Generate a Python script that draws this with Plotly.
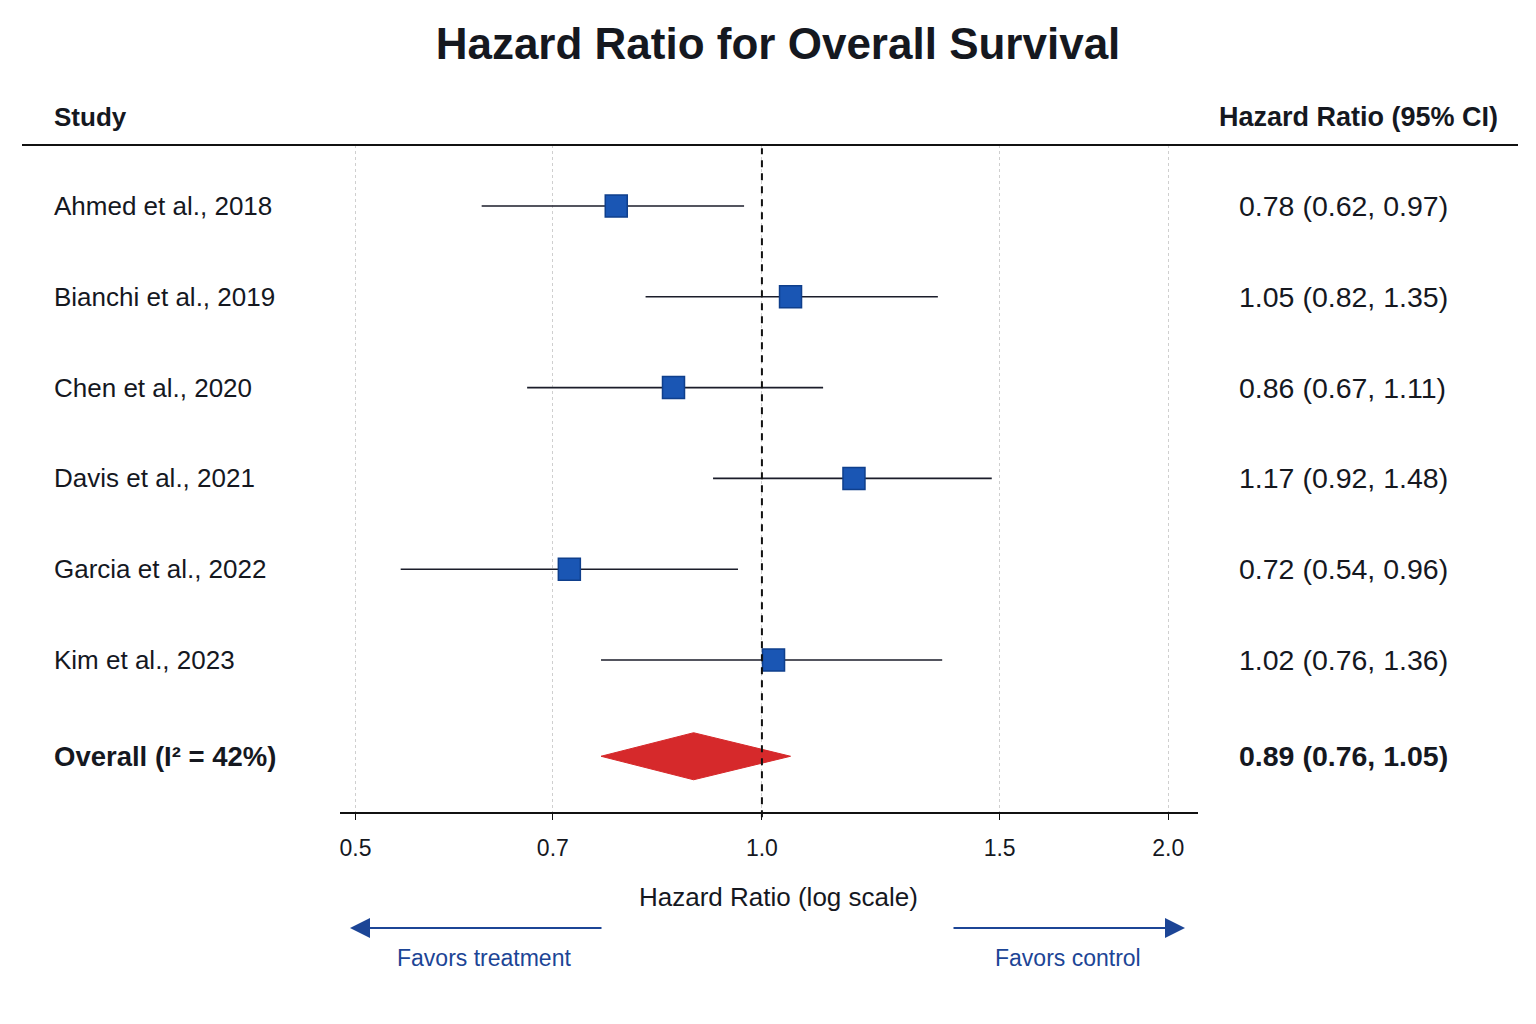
import math
import plotly.graph_objects as go

# ---------------- data ----------------
studies = ["Ahmed et al., 2018", "Bianchi et al., 2019", "Chen et al., 2020",
           "Davis et al., 2021", "Garcia et al., 2022", "Kim et al., 2023"]
hr = [0.78, 1.05, 0.86, 1.17, 0.72, 1.02]
ci_low = [0.62, 0.82, 0.67, 0.92, 0.54, 0.76]
ci_high = [0.97, 1.35, 1.11, 1.48, 0.96, 1.36]

overall_label = "Overall (I\u00b2 = 42%)"
overall_hr = 0.89
overall_low = 0.76
overall_high = 1.05

tick_vals = [0.5, 0.7, 1.0, 1.5, 2.0]
tick_text = ["0.5", "0.7", "1.0", "1.5", "2.0"]

# ---------------- layout constants ----------------
W, H = 1536, 1024
L, R, T, B = 340, 338, 145, 212
PW = W - L - R
PH = H - T - B
FONT = "Liberation Sans, Arial, Helvetica, sans-serif"
DARK = "#15181f"
BLUE_TXT = "#1c4596"
SQ_FILL = "#1a56b4"
SQ_LINE = "#0f3f8c"
RED = "#d6292b"

n = len(studies)
ys = [n + 1 - i for i in range(n)]          # 7 .. 2
y_overall = 0.94
x_range = [math.log10(0.4869), math.log10(2.104)]
y_range = [0.326, 7.672]


def px_x(p):
    return (p - L) / PW


def px_y(p):
    return (H - B - p) / PH


fig = go.Figure()

# CI lines
lx, ly = [], []
for lo, hi, y in zip(ci_low, ci_high, ys):
    lx += [lo, hi, None]
    ly += [y, y, None]
fig.add_trace(go.Scatter(x=lx, y=ly, mode="lines",
                         line=dict(color="#1b1d2a", width=1.6),
                         hoverinfo="skip", showlegend=False))

# point estimates
fig.add_trace(go.Scatter(x=hr, y=ys, mode="markers",
                         marker=dict(symbol="square", size=22, color=SQ_FILL,
                                     line=dict(color=SQ_LINE, width=1.5)),
                         showlegend=False))

# overall diamond
dh = 0.259
fig.add_trace(go.Scatter(
    x=[overall_low, overall_hr, overall_high, overall_hr, overall_low],
    y=[y_overall, y_overall + dh, y_overall, y_overall - dh, y_overall],
    mode="lines", fill="toself", fillcolor=RED,
    line=dict(color=RED, width=1), showlegend=False))

shapes = []
# vertical null line
shapes.append(dict(type="line", xref="x", yref="paper", x0=1.0, x1=1.0,
                   y0=-0.008, y1=0.995,
                   line=dict(color="#111", width=2, dash="7px,6px"),
                   layer="above"))
# header rule
shapes.append(dict(type="line", xref="paper", yref="paper",
                   x0=px_x(22), x1=px_x(1518), y0=1, y1=1,
                   line=dict(color="#111", width=2)))

ann = []
for s, y, h_, lo, hi in zip(studies, ys, hr, ci_low, ci_high):
    ann.append(dict(text=s, xref="paper", yref="y", x=px_x(52), y=y,
                    xanchor="left", yanchor="middle", showarrow=False,
                    font=dict(family=FONT, size=26, color=DARK)))
    ann.append(dict(text=f"{h_:.2f} ({lo:.2f}, {hi:.2f})", xref="paper", yref="y",
                    x=px_x(1237), y=y, xanchor="left", yanchor="middle",
                    showarrow=False, font=dict(family=FONT, size=28.5, color=DARK)))

ann.append(dict(text=f"<b>{overall_label}</b>", xref="paper", yref="y",
                x=px_x(52), y=y_overall, xanchor="left", yanchor="middle",
                showarrow=False, font=dict(family=FONT, size=27.5, color=DARK)))
ann.append(dict(text=f"<b>{overall_hr:.2f} ({overall_low:.2f}, {overall_high:.2f})</b>",
                xref="paper", yref="y", x=px_x(1237), y=y_overall,
                xanchor="left", yanchor="middle", showarrow=False,
                font=dict(family=FONT, size=28.5, color=DARK)))

# headers
ann.append(dict(text="<b>Study</b>", xref="paper", yref="paper", x=px_x(52),
                y=px_y(117), xanchor="left", yanchor="middle", showarrow=False,
                font=dict(family=FONT, size=26, color=DARK)))
ann.append(dict(text="<b>Hazard Ratio (95% CI)</b>", xref="paper", yref="paper",
                x=px_x(1500), y=px_y(117), xanchor="right", yanchor="middle",
                showarrow=False, font=dict(family=FONT, size=27, color=DARK)))

# axis title
ann.append(dict(text="Hazard Ratio (log scale)", xref="paper", yref="paper",
                x=px_x(778), y=px_y(897), xanchor="center", yanchor="middle",
                showarrow=False, font=dict(family=FONT, size=26, color=DARK)))

# arrows (head position + pixel offset of the tail)
ann.append(dict(text="", xref="paper", yref="paper", axref="pixel", ayref="pixel",
                x=px_x(350), y=px_y(928), ax=603 - 350, ay=0,
                showarrow=True, arrowhead=2, arrowsize=2.0, arrowwidth=2,
                arrowcolor=BLUE_TXT))
ann.append(dict(text="", xref="paper", yref="paper", axref="pixel", ayref="pixel",
                x=px_x(1185), y=px_y(928), ax=952 - 1185, ay=0,
                showarrow=True, arrowhead=2, arrowsize=2.0, arrowwidth=2,
                arrowcolor=BLUE_TXT))
ann.append(dict(text="Favors treatment", xref="paper", yref="paper",
                x=px_x(484), y=px_y(958), xanchor="center", yanchor="middle",
                showarrow=False, font=dict(family=FONT, size=23, color=BLUE_TXT)))
ann.append(dict(text="Favors control", xref="paper", yref="paper",
                x=px_x(1068), y=px_y(958), xanchor="center", yanchor="middle",
                showarrow=False, font=dict(family=FONT, size=23, color=BLUE_TXT)))

fig.update_layout(
    width=W, height=H,
    margin=dict(l=L, r=R, t=T, b=B, pad=0),
    paper_bgcolor="white", plot_bgcolor="white",
    title=dict(text="<b>Hazard Ratio for Overall Survival</b>",
               x=778 / W, xanchor="center", y=1 - 44 / H, yanchor="middle",
               yref="container",
               font=dict(family=FONT, size=44, color=DARK)),
    xaxis=dict(type="log", range=x_range, tickvals=tick_vals, ticktext=tick_text,
               showgrid=True, gridcolor="#cfcfcf", griddash="dot", gridwidth=1,
               showline=True, linecolor="#111", linewidth=1.6,
               ticks="outside", ticklen=6, tickcolor="#111", tickwidth=1,
               ticklabelstandoff=9,
               tickfont=dict(family=FONT, size=23, color=DARK),
               zeroline=False, fixedrange=True),
    yaxis=dict(range=y_range, visible=False, fixedrange=True),
    shapes=shapes,
    annotations=ann,
    showlegend=False,
)

fig.write_html("out.html")
